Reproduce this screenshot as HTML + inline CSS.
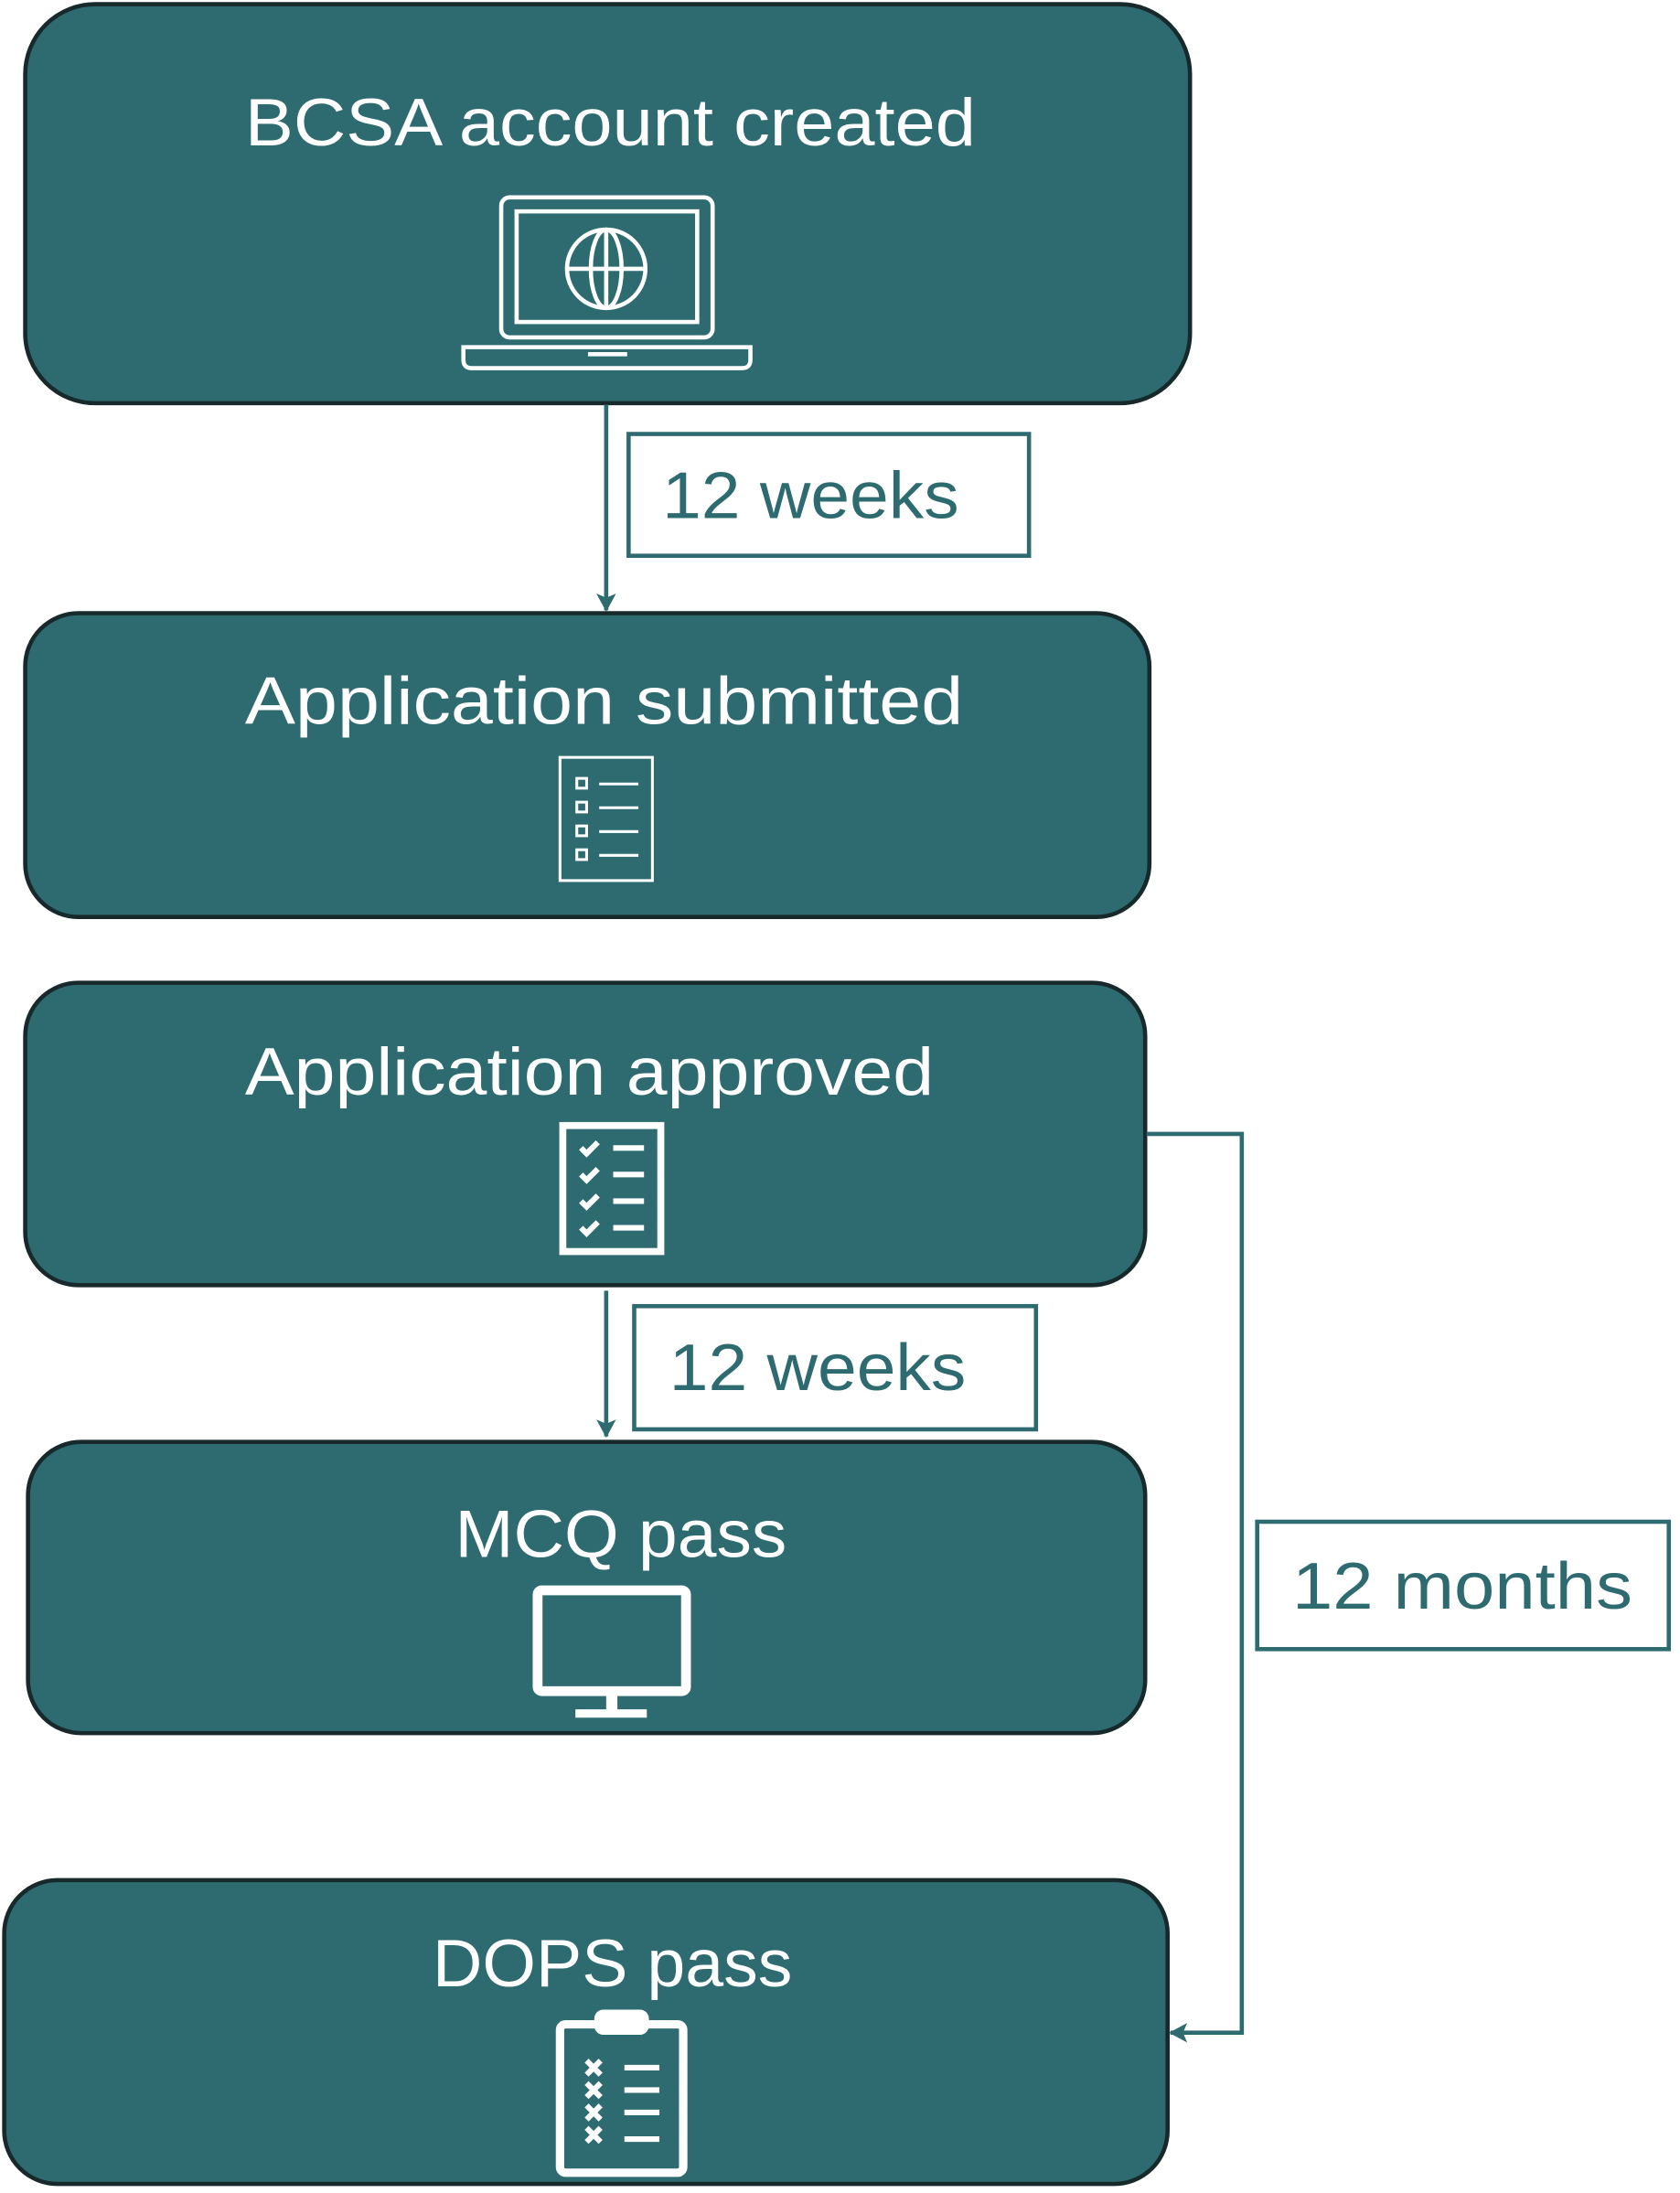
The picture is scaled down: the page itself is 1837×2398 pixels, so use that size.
<!DOCTYPE html>
<html><head><meta charset="utf-8"><style>
html,body{margin:0;padding:0;background:#fff;}
svg{display:block;}
text{font-family:"Liberation Sans","DejaVu Sans",sans-serif;}
</style></head><body>
<svg width="1837" height="2398" viewBox="0 0 1200 1566.5" xmlns="http://www.w3.org/2000/svg">
<defs>
<marker id="ah" markerWidth="16" markerHeight="16" refX="12" refY="7" orient="auto" markerUnits="userSpaceOnUse">
<path d="M0,0 L13,7 L0,14 L3,7 Z" fill="#2e6b70"/>
</marker>
</defs>
<g fill="#2e6b70" stroke="#17292b" stroke-width="3">
<rect x="18" y="3" width="832" height="285" rx="50"/>
<rect x="18" y="438" width="803" height="217" rx="38"/>
<rect x="18" y="702" width="800" height="216" rx="38"/>
<rect x="20" y="1030" width="798" height="208" rx="38"/>
<rect x="3" y="1343" width="831" height="217" rx="38"/>
</g>
<g stroke="#2e6b70" stroke-width="3" fill="none">
<line x1="433" y1="289" x2="433" y2="436" marker-end="url(#ah)"/>
<line x1="433" y1="922" x2="433" y2="1026" marker-end="url(#ah)"/>
<polyline points="819,810 887,810 887,1452 836,1452" marker-end="url(#ah)"/>
<rect x="449" y="310" width="286" height="87"/>
<rect x="453" y="933" width="287" height="88"/>
<rect x="898" y="1087" width="294" height="91"/>
</g>
<g fill="#2e6b70" font-size="47">
<text x="473" y="370" textLength="212" lengthAdjust="spacingAndGlyphs">12 weeks</text>
<text x="478" y="993" textLength="212" lengthAdjust="spacingAndGlyphs">12 weeks</text>
<text x="923" y="1149" textLength="243" lengthAdjust="spacingAndGlyphs">12 months</text>
</g>
<g fill="#fff" font-size="48">
<text x="175" y="104" textLength="522" lengthAdjust="spacingAndGlyphs">BCSA account created</text>
<text x="175" y="517" textLength="513" lengthAdjust="spacingAndGlyphs">Application submitted</text>
<text x="175" y="782" textLength="492" lengthAdjust="spacingAndGlyphs">Application approved</text>
<text x="325" y="1112" textLength="237" lengthAdjust="spacingAndGlyphs">MCQ pass</text>
<text x="309" y="1419" textLength="257" lengthAdjust="spacingAndGlyphs">DOPS pass</text>
</g>
<g stroke="#fff" fill="none" stroke-width="3">
<rect x="358" y="141" width="151" height="100" rx="6"/>
<rect x="369" y="151" width="129" height="79"/>
<path d="M331,248 H536 V257 Q536,263 530,263 H337 Q331,263 331,257 Z"/>
<line x1="420" y1="253" x2="448" y2="253"/>
<circle cx="433" cy="192" r="28"/>
<ellipse cx="433" cy="192" rx="11" ry="28"/>
<line x1="433" y1="164" x2="433" y2="220"/>
<line x1="405" y1="192" x2="461" y2="192"/>
<rect x="400" y="541" width="66" height="88" stroke-width="2"/>
<g stroke-width="2">
<rect x="412" y="556" width="7" height="7"/><line x1="428" y1="560" x2="456" y2="560"/>
<rect x="412" y="573" width="7" height="7"/><line x1="428" y1="577" x2="456" y2="577"/>
<rect x="412" y="590" width="7" height="7"/><line x1="428" y1="594" x2="456" y2="594"/>
<rect x="412" y="607" width="7" height="7"/><line x1="428" y1="611" x2="456" y2="611"/>
</g>
<rect x="402" y="804" width="70" height="90" stroke-width="5"/>
<g stroke-width="4">
<path d="M415,820 l4,4 l8,-8"/><line x1="438" y1="820" x2="460" y2="820"/>
<path d="M415,839 l4,4 l8,-8"/><line x1="438" y1="839" x2="460" y2="839"/>
<path d="M415,858 l4,4 l8,-8"/><line x1="438" y1="858" x2="460" y2="858"/>
<path d="M415,877 l4,4 l8,-8"/><line x1="438" y1="877" x2="460" y2="877"/>
</g>
<rect x="384" y="1136" width="106" height="72" rx="3" stroke-width="7"/>
<line x1="437" y1="1210" x2="437" y2="1222" stroke-width="8"/>
<line x1="411" y1="1224" x2="462" y2="1224" stroke-width="6"/>
<rect x="400" y="1446" width="88" height="106" rx="4" stroke-width="6"/>
<rect x="426" y="1437" width="36" height="15" rx="5" fill="#fff"/>
<g stroke-width="4">
<path d="M419,1472 l10,10 M429,1472 l-10,10"/><line x1="446" y1="1477" x2="471" y2="1477"/>
<path d="M419,1488 l10,10 M429,1488 l-10,10"/><line x1="446" y1="1493" x2="471" y2="1493"/>
<path d="M419,1504 l10,10 M429,1504 l-10,10"/><line x1="446" y1="1509" x2="471" y2="1509"/>
<path d="M419,1520 l10,10 M429,1520 l-10,10"/><line x1="446" y1="1528" x2="471" y2="1528"/>
</g>
</g>
</svg>
</body></html>
